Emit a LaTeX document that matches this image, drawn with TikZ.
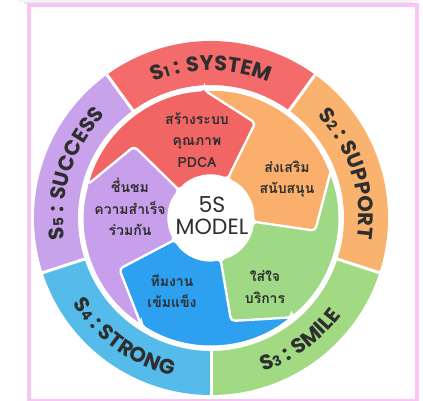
\documentclass[tikz,border=0pt]{standalone}
\usepackage{fontspec}
\setmainfont{Poppins}
\newfontfamily\thaifont[Script=Thai]{Loma}
\newfontfamily\ringfont[LetterSpace=4]{Poppins}
\usetikzlibrary{decorations.text,calc}
\definecolor{rred}{HTML}{F36B6B}
\definecolor{rorange}{HTML}{FAB26F}
\definecolor{rgreen}{HTML}{A2DA84}
\definecolor{rblue}{HTML}{55BBEA}
\definecolor{rpurple}{HTML}{C9A2EC}
\definecolor{pred}{HTML}{F26565}
\definecolor{porange}{HTML}{FAB06C}
\definecolor{pgreen}{HTML}{A0D985}
\definecolor{pblue}{HTML}{2EA0F0}
\definecolor{ppurple}{HTML}{C79FEA}
\definecolor{framepink}{HTML}{F9C4F6}
\definecolor{txt}{HTML}{2E2E2E}
\newcommand{\ringbig}{\ringfont\bfseries\fontsize{21}{21}\selectfont}
\newcommand{\ringsmall}{\ringfont\bfseries\fontsize{14}{14}\selectfont}
\newcommand{\pcpiece}[2]{%
  \filldraw[fill=#2,draw=white,line width=2.2pt,rounded corners=4pt,rotate=#1]
    (93:128pt) -- (65:105pt) -- (67:42pt)
    arc[start angle=67,end angle=139,radius=42pt]
    -- (137:105pt) -- (165:128pt)
    arc[start angle=165,end angle=93,radius=128pt] -- cycle;}
\tikzset{
  ringtext/.style={decorate,decoration={text along path,text align=center,text color=txt,text={#1}}},
  thaitext/.style={text=txt,align=center,font=\thaifont\bfseries\fontsize{14}{21.5}\selectfont},
}
\begin{document}
\begin{tikzpicture}[x=1pt,y=1pt]
\useasboundingbox (0,0) rectangle (423,401);
\fill[white] (0,0) rectangle (423,401);
% top shadow
\fill[gray!18] (24,397) rectangle (412,401);
\fill[gray!8] (18,399) rectangle (418,401);
\coordinate (C) at (211,183);
\begin{scope}
\clip (31,3) rectangle (415,393);
\begin{scope}[shift={(C)}]
% outer ring
\fill[rred] (54:177pt) arc[start angle=54,end angle=126,radius=177pt] -- (126:133pt) arc[start angle=126,end angle=54,radius=133pt] -- cycle;
\fill[rorange] (-18:177pt) arc[start angle=-18,end angle=54,radius=177pt] -- (54:133pt) arc[start angle=54,end angle=-18,radius=133pt] -- cycle;
\fill[rgreen] (-90:177pt) arc[start angle=-90,end angle=-18,radius=177pt] -- (-18:133pt) arc[start angle=-18,end angle=-90,radius=133pt] -- cycle;
\fill[rblue] (198:177pt) arc[start angle=198,end angle=270,radius=177pt] -- (270:133pt) arc[start angle=270,end angle=198,radius=133pt] -- cycle;
\fill[rpurple] (126:177pt) arc[start angle=126,end angle=198,radius=177pt] -- (198:133pt) arc[start angle=198,end angle=126,radius=133pt] -- cycle;
\foreach \a in {54,126,198,270,342}
  \draw[white,line width=3pt] (\a:130pt) -- (\a:182pt);
% ring texts
\path[ringtext={|\ringbig|S|\ringsmall|1|\ringbig| : SYSTEM}] (126:147.5pt) arc[start angle=126,end angle=54,radius=147.5pt];
\path[ringtext={|\ringbig|S|\ringsmall|2|\ringbig| : SUPPORT}] (54:147.5pt) arc[start angle=54,end angle=-18,radius=147.5pt];
\path[ringtext={|\ringbig|S|\ringsmall|3|\ringbig| : SMILE}] (-90:162.5pt) arc[start angle=-90,end angle=-18,radius=162.5pt];
\path[ringtext={|\ringbig|S|\ringsmall|4|\ringbig| : STRONG}] (198:162.5pt) arc[start angle=198,end angle=270,radius=162.5pt];
\path[ringtext={|\ringbig|S|\ringsmall|5|\ringbig| : SUCCESS}] (198:147.5pt) arc[start angle=198,end angle=126,radius=147.5pt];
% inner pieces
\pcpiece{0}{pred}
\pcpiece{-72}{porange}
\pcpiece{-144}{pgreen}
\pcpiece{-216}{pblue}
\pcpiece{-288}{ppurple}
\fill[white] (0,0) circle[radius=41pt];
\end{scope}
\end{scope}
% centre
\node[text=txt,align=center,font=\fontsize{22}{22}\selectfont] (model) at (212,185) {5S\\MODEL};
% piece texts
\node[thaitext] (t1) at (197,261) {สร้างระบบ\\คุณภาพ\\PDCA};
\node[thaitext] (t2) at (287,222) {ส่งเสริม\\สนับสนุน};
\node[thaitext] (t3) at (265,114) {ใส่ใจ\\บริการ};
\node[thaitext] (t4) at (172,110) {ทีมงาน\\เข้มแข็ง};
\node[thaitext] (t5) at (130,194) {ชื่นชม\\ความสำเร็จ\\ร่วมกัน};
% frame
\draw[framepink,line width=4pt] (29,0) -- (29,395.5) -- (417,395.5) -- (417,0);
\draw[framepink,line width=2.5pt] (27,1.2) -- (419,1.2);
\end{tikzpicture}
\end{document}
